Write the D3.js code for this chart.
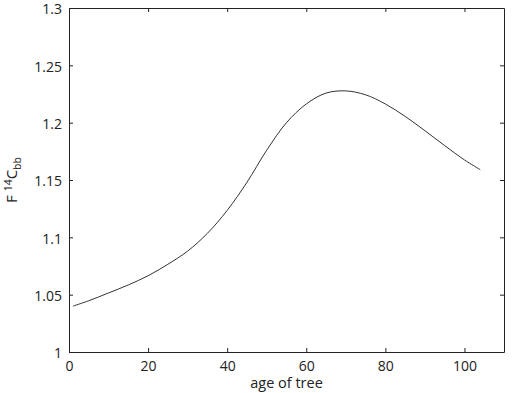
<!DOCTYPE html>
<html>
<head>
<meta charset="utf-8">
<script src="https://cdn.jsdelivr.net/npm/d3@7"></script>
<style>
  body { margin: 0; background: #fff; }
  svg text { font-family: "Open Sans", sans-serif; fill: #222; }
</style>
</head>
<body>
<svg width="530" height="393"></svg>
<script>
// age of tree (years) and F14C of the bomb-built wood
var ages = [1, 5, 10, 15, 20, 25, 30, 35, 40, 45, 50, 55, 60, 65, 70, 75, 80, 85, 90, 95, 100, 104];
var f14c = [1.040, 1.0447, 1.0515, 1.0585, 1.0665, 1.0765, 1.088, 1.1035, 1.1235, 1.148, 1.176, 1.200,
            1.2163, 1.2258, 1.2277, 1.2243, 1.2163, 1.2055, 1.193, 1.180, 1.1675, 1.159];
var xTicks = [0, 20, 40, 60, 80, 100];
var yTicks = [1, 1.05, 1.1, 1.15, 1.2, 1.25, 1.3];

var svg = d3.select("svg"),
    margin = {left: 69, top: 8, right: 26, bottom: 41},
    width = +svg.attr("width") - margin.left - margin.right,
    height = +svg.attr("height") - margin.top - margin.bottom,
    g = svg.append("g").attr("transform", "translate(" + margin.left + "," + margin.top + ")");

var x = d3.scaleLinear().domain([0, 110]).range([0, width]);
var y = d3.scaleLinear().domain([1, 1.3]).range([height, 0]);

var data = ages.map(function(a, i) { return {age: a, v: f14c[i]}; });

function styleAxis(sel) {
  sel.selectAll("path, line").attr("stroke", "#222");
  sel.selectAll("text").attr("fill", "#222").style("font-size", "14px")
     .style("font-family", "'Open Sans', sans-serif");
}

g.append("g")
  .attr("transform", "translate(0," + height + ")")
  .call(d3.axisBottom(x).tickValues(xTicks).tickSize(-4).tickSizeOuter(0).tickPadding(9))
  .call(styleAxis);

g.append("g")
  .call(d3.axisTop(x).tickValues(xTicks).tickSize(-4).tickSizeOuter(0).tickFormat(""))
  .call(styleAxis);

g.append("g")
  .call(d3.axisLeft(y).tickValues(yTicks).tickSize(-4).tickSizeOuter(0).tickPadding(7)
          .tickFormat(function(d) { return d3.format("")(+d.toFixed(2)); }))
  .call(styleAxis)
  .selectAll("text").attr("dy", "0.42em");

g.append("g")
  .attr("transform", "translate(" + width + ",0)")
  .call(d3.axisRight(y).tickValues(yTicks).tickSize(-4).tickSizeOuter(0).tickFormat(""))
  .call(styleAxis);

var line = d3.line()
    .x(function(d) { return x(d.age); })
    .y(function(d) { return y(d.v); })
    .curve(d3.curveCatmullRom);

g.append("path")
  .datum(data)
  .attr("fill", "none")
  .attr("stroke", "#333")
  .attr("stroke-width", 1)
  .attr("d", line);

// axis labels
svg.append("text")
  .attr("x", margin.left + width / 2)
  .attr("y", 388)
  .attr("text-anchor", "middle")
  .style("font-size", "14.5px")
  .text("age of tree");

var yl = svg.append("text")
  .attr("transform", "translate(17," + (margin.top + height / 2) + ") rotate(-90)")
  .attr("text-anchor", "middle")
  .style("font-size", "15px");
yl.append("tspan").text("F ");
yl.append("tspan").attr("dy", "-5").style("font-size", "10.5px").text("14");
yl.append("tspan").attr("dy", "5").text("C");
yl.append("tspan").attr("dy", "4").style("font-size", "10.5px").text("bb");
</script>
</body>
</html>
